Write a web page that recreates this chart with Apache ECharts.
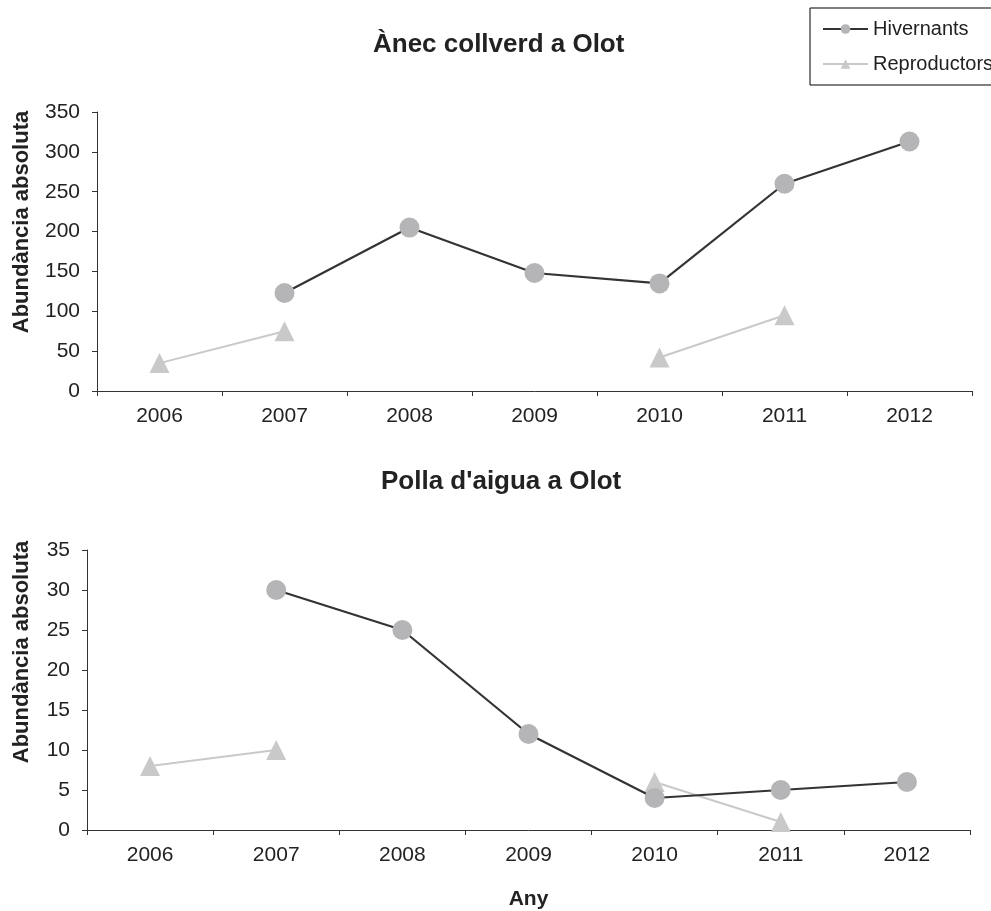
<!DOCTYPE html>
<html>
<head>
<meta charset="utf-8">
<script src="https://cdn.jsdelivr.net/npm/echarts@6/dist/echarts.min.js"></script>
<style>
  html, body { margin: 0; padding: 0; background: #fff; }
  #chart { width: 991px; height: 911px; }
</style>
</head>
<body>
<div id="chart"></div>
<script>
const years = ["2006", "2007", "2008", "2009", "2010", "2011", "2012"];

// Ànec collverd
const anecHivernants = [null, 123, 205, 148, 135, 260, 313];
const anecReproductors = [35, 75, null, null, 42, 95, null];

// Polla d'aigua
const pollaHivernants = [null, 30, 25, 12, 4, 5, 6];
const pollaReproductors = [8, 10, null, null, 6, 1, null];

const font = "Liberation Sans, Arial, sans-serif";
const ink = "#222";
const darkLine = "#333333";
const circleFill = "#b5b5b7";
const lightGrey = "#c9c9c9";

function xAxisFor(gridIndex, withName) {
  return {
    type: "category",
    gridIndex,
    data: years,
    boundaryGap: true,
    axisLine: { lineStyle: { color: darkLine, width: 1 } },
    axisTick: { show: true, length: 5, alignWithLabel: false, lineStyle: { color: darkLine } },
    axisLabel: { color: ink, fontSize: 21, fontFamily: font, margin: 15 },
    splitLine: { show: false },
    name: withName ? "Any" : "",
    nameLocation: "middle",
    nameGap: 59,
    nameTextStyle: { color: ink, fontSize: 21, fontWeight: "bold", fontFamily: font },
  };
}

function yAxisFor(gridIndex, max, interval) {
  return {
    type: "value",
    gridIndex,
    min: 0,
    max,
    interval,
    axisLine: { show: true, lineStyle: { color: darkLine, width: 1 } },
    axisTick: { show: true, length: 5, lineStyle: { color: darkLine } },
    axisLabel: { color: ink, fontSize: 21, fontFamily: font, margin: 17 },
    splitLine: { show: false },
  };
}

function hivSeries(idx, data) {
  return {
    name: "Hivernants",
    type: "line",
    xAxisIndex: idx,
    yAxisIndex: idx,
    data,
    symbol: "circle",
    symbolSize: 20,
    itemStyle: { color: circleFill },
    lineStyle: { color: darkLine, width: 2.2 },
    z: 3,
  };
}

function repSeries(idx, data) {
  return {
    name: "Reproductors",
    type: "line",
    xAxisIndex: idx,
    yAxisIndex: idx,
    data,
    symbol: "triangle",
    symbolSize: 20,
    itemStyle: { color: lightGrey },
    lineStyle: { color: lightGrey, width: 2 },
    z: 2,
  };
}

function yName(y) {
  return {
    type: "text",
    rotation: Math.PI / 2,
    x: 22,
    y,
    style: {
      text: "Abundància absoluta",
      fill: ink,
      font: "bold 22px " + font,
      textAlign: "center",
      textVerticalAlign: "middle",
    },
  };
}

const chart = echarts.init(document.getElementById("chart"));
chart.setOption({
  backgroundColor: "#fff",
  animation: false,
  textStyle: { fontFamily: font },
  title: [
    {
      text: "Ànec collverd a Olot",
      left: 368,
      top: 27,
      textStyle: { color: ink, fontSize: 26, fontWeight: "bold", fontFamily: font },
    },
    {
      text: "Polla d'aigua a Olot",
      left: 376,
      top: 464,
      textStyle: { color: ink, fontSize: 26, fontWeight: "bold", fontFamily: font },
    },
  ],
  legend: {
    orient: "vertical",
    left: 810,
    top: 8,
    padding: [11, 30, 11, 12],
    itemGap: 15,
    itemWidth: 45,
    itemHeight: 12,
    borderColor: "#000",
    borderWidth: 1,
    textStyle: { color: ink, fontSize: 20, fontFamily: font },
    data: ["Hivernants", "Reproductors"],
  },
  grid: [
    { left: 97, right: 19, top: 112, height: 279 },
    { left: 87, right: 21, top: 550, height: 280 },
  ],
  xAxis: [xAxisFor(0, false), xAxisFor(1, true)],
  yAxis: [yAxisFor(0, 350, 50), yAxisFor(1, 35, 5)],
  graphic: [yName(222), yName(652)],
  series: [
    hivSeries(0, anecHivernants),
    repSeries(0, anecReproductors),
    hivSeries(1, pollaHivernants),
    repSeries(1, pollaReproductors),
  ],
});
</script>
</body>
</html>
